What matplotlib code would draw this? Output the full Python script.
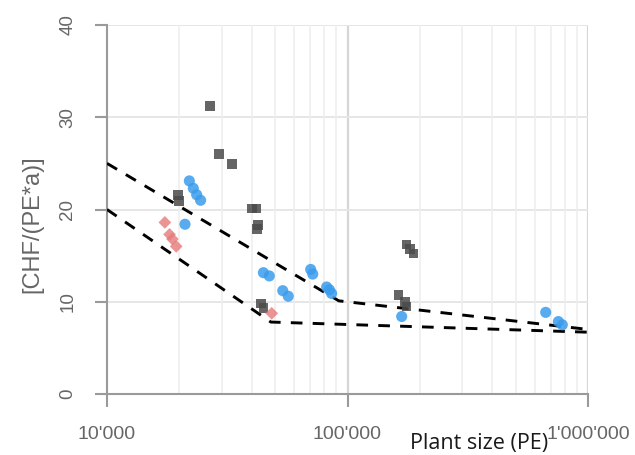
import numpy as np
import matplotlib.pyplot as plt
import matplotlib.transforms as mtransforms
from matplotlib.ticker import FixedLocator, NullFormatter

# grey squares
sq_x = [26800, 29300, 33000, 19700, 19900, 40000, 41900, 42500, 42000,
        43600, 44700, 176000, 182000, 188000, 163000, 173000, 176000]
sq_y = [31.2, 26.0, 24.9, 21.6, 20.9, 20.1, 20.1, 18.3, 17.9,
        9.8, 9.3, 16.2, 15.7, 15.25, 10.7, 10.0, 9.5]

# blue circles
ci_x = [22000, 22850, 23600, 24500, 21100, 44700, 47300, 53800, 56700,
        70300, 71700, 81900, 84100, 85900, 168000, 667000, 753000, 782000]
ci_y = [23.1, 22.3, 21.6, 21.0, 18.4, 13.15, 12.8, 11.2, 10.6,
        13.5, 13.0, 11.6, 11.3, 10.9, 8.4, 8.85, 7.85, 7.5]

# red diamonds
di_x = [17400, 18200, 18700, 19400, 48400]
di_y = [18.6, 17.3, 16.8, 16.0, 8.75]

# dashed envelope lines
upper_x = [10000, 92000, 1000000]
upper_y = [25.0, 10.1, 7.0]
lower_x = [10000, 48000, 1000000]
lower_y = [20.0, 7.8, 6.7]

xticks = [1e4, 1e5, 1e6]
xtick_labels = ["10'000", "100'000", "1'000'000"]
yticks = [0, 10, 20, 30, 40]

W, H = 635, 455
fig = plt.figure(figsize=(W / 100, H / 100), dpi=100)
ax = fig.add_axes([107 / W, 1 - 394 / H, (588 - 107) / W, (394 - 25) / H])

ax.set_xscale("log")
ax.set_xlim(1e4, 1e6)
ax.set_ylim(0, 40)

# grid
minor = [m * 10 ** e for e in (4, 5) for m in range(2, 10)]
ax.xaxis.set_minor_locator(FixedLocator(minor))
ax.xaxis.set_minor_formatter(NullFormatter())
ax.grid(True, which="minor", axis="x", color="#eeeeee", lw=1.1)
for v in (1e5, 1e6):
    ax.axvline(v, color="#d6d6d6", lw=1.6, zorder=0.5)
for v in (10, 20, 30, 40):
    ax.axhline(v, color="#e6e6e6", lw=1.4, zorder=0.5)
ax.set_axisbelow(True)

for s in ("top", "right"):
    ax.spines[s].set_visible(False)
for s in ("left", "bottom"):
    ax.spines[s].set_color("#9a9a9a")
    ax.spines[s].set_linewidth(1.5)

ax.plot(upper_x, upper_y, color="black", lw=2.1, dashes=(4, 3.5), zorder=3)
ax.plot(lower_x, lower_y, color="black", lw=2.1, dashes=(4, 3.5), zorder=3)

ax.scatter(sq_x, sq_y, marker="s", s=48, color="#4a4a4a", alpha=0.85,
           edgecolors="none", zorder=4)
ax.scatter(ci_x, ci_y, marker="o", s=64, color="#3a9cec", alpha=0.85,
           edgecolors="none", zorder=4)
ax.scatter(di_x, di_y, marker="D", s=42, color="#e57a7a", alpha=0.8,
           edgecolors="none", zorder=4)

ax.set_xticks(xticks)
ax.set_xticklabels(xtick_labels, family="Liberation Sans", fontsize=14,
                   color="#666666")
shift = mtransforms.ScaledTranslation(6 / 100, 0, fig.dpi_scale_trans)
for lab in ax.get_xticklabels():
    lab.set_transform(lab.get_transform() + shift)
ax.set_yticks(yticks)
ax.set_yticklabels([str(v) for v in yticks], family="Liberation Sans",
                   fontsize=13.5, color="#666666", rotation=90, va="center")
ax.tick_params(axis="x", which="major", direction="out", length=9,
               width=1.5, color="#9a9a9a", pad=14)
ax.tick_params(axis="x", which="minor", length=0)
ax.tick_params(axis="y", direction="out", length=9, width=1.5,
               color="#9a9a9a", pad=13)

fig.text(32 / W, 1 - 224 / H, "[CHF/(PE*a)]", rotation=90, ha="center",
         va="center", family="Liberation Sans", fontsize=17, color="#666666")
fig.text(479 / W, 1 - 443 / H, "Plant size (PE)", ha="center", va="center",
         family="Open Sans", fontsize=15.5, color="#1a1a1a")

fig.savefig("out.png", dpi=100)
